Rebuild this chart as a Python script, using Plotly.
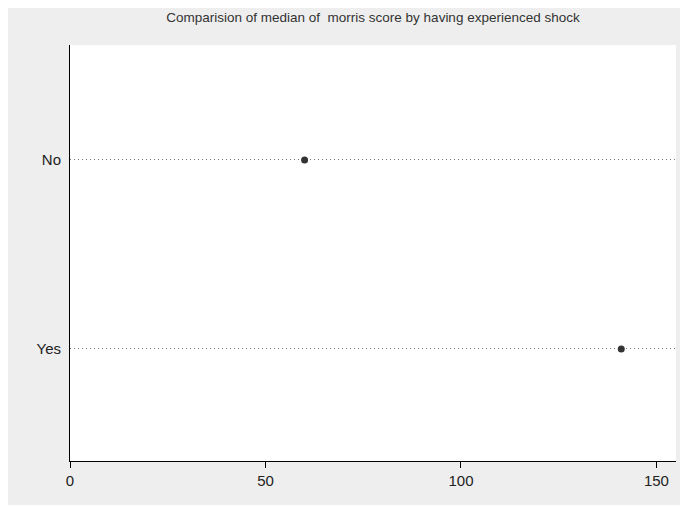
import plotly.graph_objects as go

# Data
categories = ["No", "Yes"]
medians = [60, 141]
title_text = "Comparision of median of  morris score by having experienced shock"
x_ticks = [0, 50, 100, 150]

cat_pos = list(range(1, len(categories) + 1))

# The page adds an 8px body margin, so the figure is sized to fit the window.
W, H = 680, 498
L, R, T, B = 62, 12, 37, 45
pw, ph = W - L - R, H - T - B

def px_to_paper_x(px):
    return (px - L) / pw

def px_to_paper_y(py):
    return (H - B - py) / ph

fig = go.Figure()
fig.add_trace(go.Scatter(
    x=medians, y=cat_pos, mode="markers",
    marker=dict(color="#333333", size=7),
    hoverinfo="x+y", showlegend=False,
))

font_family = "Liberation Sans, Arial, sans-serif"

fig.update_layout(
    width=W, height=H,
    margin=dict(l=L, r=R, t=T, b=B),
    paper_bgcolor="white",
    plot_bgcolor="white",
    font=dict(family=font_family, size=15, color="#222222"),
    title=dict(text=title_text, x=0.5, xref="paper", xanchor="center",
               y=1 - 9 / H, yref="container", yanchor="middle",
               font=dict(size=13.5, color="#333333", family=font_family)),
    shapes=[
        dict(type="rect", xref="paper", yref="paper", layer="below",
             x0=px_to_paper_x(0), x1=px_to_paper_x(675),
             y0=px_to_paper_y(497), y1=px_to_paper_y(0),
             fillcolor="#eeeeee", line=dict(width=0)),
        dict(type="rect", xref="paper", yref="paper", layer="below",
             x0=0, x1=1, y0=0, y1=1,
             fillcolor="white", line=dict(width=0)),
    ],
    xaxis=dict(range=[0, 155], tickvals=x_ticks, showgrid=False, zeroline=False,
               showline=True, linecolor="black", linewidth=1,
               ticks="outside", ticklen=6, tickcolor="black",
               tickfont=dict(size=15, color="#222222")),
    yaxis=dict(range=[2.593, 0.3915], tickvals=cat_pos, ticktext=categories,
               showgrid=True, gridcolor="#777777", gridwidth=1, griddash="1px,3px",
               zeroline=False, showline=True, linecolor="black", linewidth=1,
               ticks="", ticklabelstandoff=5,
               tickfont=dict(size=15, color="#222222")),
)

fig.write_html("out.html")
